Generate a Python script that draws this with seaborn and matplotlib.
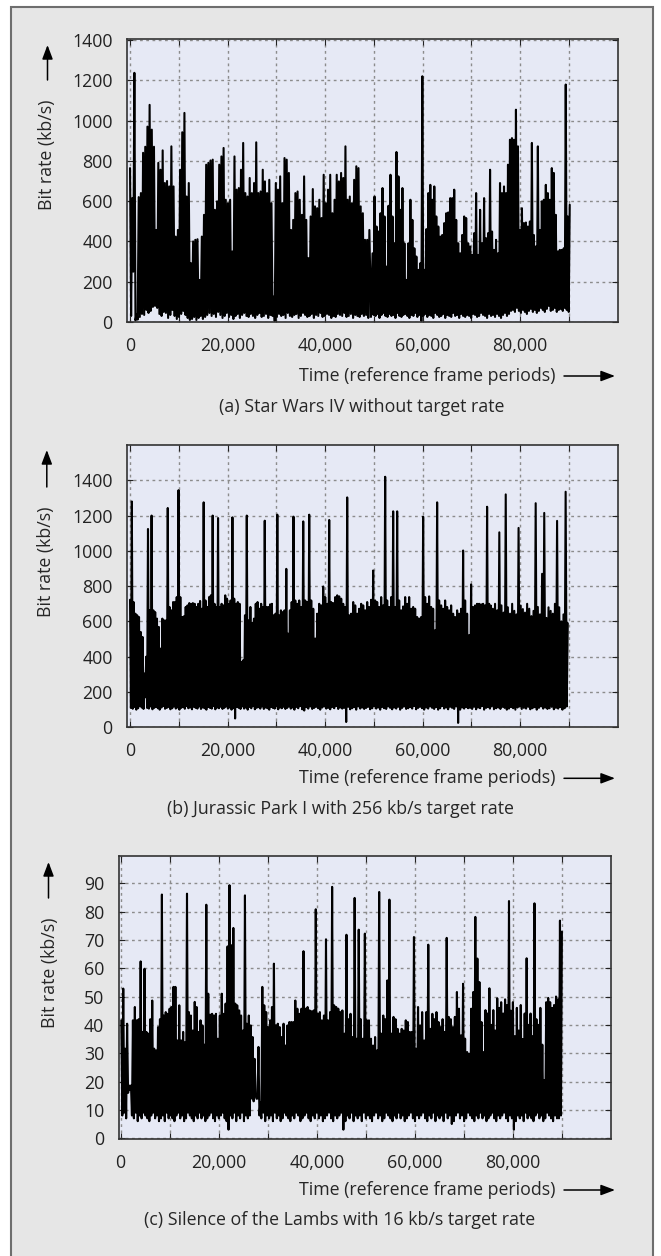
import numpy as np
import pandas as pd
import matplotlib
matplotlib.use("Agg")
import matplotlib.pyplot as plt
from matplotlib.patches import Rectangle, FancyArrowPatch
import seaborn as sns

# ---- data (upper peaks and lower troughs) ----
# (a) Star Wars IV, kb/s
A_HI_1 = [764, 615, 1237, 40, 620, 640, 840, 870, 970, 1078,
          955, 870, 457, 790, 756, 852, 690, 700, 673, 872,
          673, 424, 457, 756, 942, 1038, 623, 690, 292, 400,
          408, 411, 209, 424, 532, 781, 790, 802, 806, 557,
          599, 781, 822, 864, 607, 590, 607, 350, 822, 657,
          665, 756, 889, 640, 623, 715, 640, 690, 892, 640,
          648, 756, 698, 640, 706, 590, 126, 690, 657, 723,
          590, 814, 806, 740, 457, 507, 640, 648, 607, 532,
          723, 507, 317, 524, 660, 574, 565, 607, 516, 731,
          590, 657, 731, 540, 607, 731, 698, 740, 715, 872,
          607, 623, 590, 706, 773, 764, 574, 540, 408, 408, 457]
A_HI_2 = [341, 623, 474, 449, 540, 665, 524, 275, 577, 731,
          524, 391, 844, 723, 557, 665, 391, 209, 391, 607,
          507, 366, 325, 259, 292, 1220, 259, 461, 640, 681,
          607, 673, 524, 474, 424, 432, 491, 540, 544, 615,
          615, 657, 507, 391, 341, 432, 524, 516, 391, 375,
          333, 441, 640, 333, 557, 391, 615, 416, 441, 756,
          449, 358, 408, 341, 690, 640, 673, 640, 781, 905,
          913, 905, 1054, 872, 457, 565, 491, 494, 474, 499,
          889, 432, 375, 872, 457, 599, 607, 681, 640, 607,
          764, 740, 532, 350, 358, 358, 366, 1179, 524, 582]
A_LO = [30, 250, 8, 12, 25, 40, 35, 60, 45, 55, 75, 80, 70, 40, 30, 50, 45, 20, 35, 60,
        30, 15, 25, 40, 55, 35, 20, 10, 15, 25, 10, 20, 30, 15, 25, 35, 45, 30, 40, 25,
        50, 35, 20, 30, 45, 25, 35, 15, 30, 40, 20, 35, 45, 30, 25, 40, 30, 20, 35, 45,
        25, 30, 40, 20, 35, 30, 5, 25, 40, 30, 35, 20, 45, 30, 25, 35, 40, 20, 30, 45,
        35, 25, 30, 40, 20, 35, 30, 45, 25, 30, 40, 35, 20, 30, 25, 40, 35, 30, 45, 25,
        30, 40, 20, 35, 30, 25, 40, 30, 35, 20,
        25, 35, 30, 40, 20, 35, 45, 30, 25, 40, 30, 35, 20, 45, 30, 25, 35, 40, 30, 20,
        35, 30, 45, 25, 35, 5, 30, 40, 25, 35, 30, 20, 45, 35, 25, 30, 40, 20, 35, 30,
        25, 45, 30, 35, 20, 40, 30, 25, 35, 30, 20, 40, 35, 25, 30, 45, 35, 30, 20, 40,
        30, 35, 25, 40, 30, 20, 35, 45, 30, 40, 55, 60, 50, 70, 55, 45, 60, 50, 40, 55,
        65, 50, 60, 45, 55, 70, 60, 50, 65, 80, 55, 60, 70, 50, 60, 65, 55, 70, 60, 50]

# (b) Jurassic Park I, kb/s
B_HI_1 = [723, 1280, 710, 644, 635, 625, 540, 512, 305, 400,
          1124, 663, 1200, 663, 653, 616, 569, 446, 616, 606,
          606, 1243, 682, 663, 710, 710, 738, 1344, 738, 625,
          629, 682, 691, 704, 700, 704, 700, 682, 700, 716,
          672, 1275, 719, 682, 738, 748, 1200, 700, 682, 1186,
          682, 700, 691, 748, 729, 700, 719, 1190, 729, 700,
          710, 700, 371, 380, 635, 1200, 606, 682, 591, 616,
          700, 710, 672, 700, 682, 1171, 682, 682, 697, 700,
          635, 644, 1205, 635, 663, 653, 663, 898, 531, 663,
          710, 1194, 719]
B_HI_2 = [700, 719, 682, 1167, 719, 710, 1205, 719, 672, 503,
          644, 700, 691, 798, 738, 700, 1175, 710, 704, 738,
          748, 742, 729, 700, 682, 1303, 635, 644, 710, 691,
          644, 672, 700, 691, 663, 710, 682, 723, 889, 719,
          710, 682, 738, 691, 1420, 719, 682, 738, 1224, 682,
          1224, 719, 663, 685, 738, 700, 738, 672, 682, 672,
          625, 616, 625, 1194, 738, 700, 742, 682, 672, 550,
          1275, 719, 691, 672, 719, 682, 663, 691, 644, 625,
          663, 644, 672, 1002, 719, 644, 522, 810, 682, 691,
          700, 700, 697, 700, 691, 1250, 700]
B_HI_3 = [690, 672, 700, 663, 1105, 691, 650, 1320, 680, 644,
          700, 660, 640, 1130, 690, 670, 650, 700, 672, 630,
          660, 1270, 682, 640, 870, 1215, 620, 680, 660, 644,
          700, 1170, 680, 600, 640, 1335, 590]
B_LO = [110, 105, 115, 100, 108, 120, 112, 104, 170, 110, 106, 118, 102, 110, 115, 108, 100, 112, 120, 105,
        110, 115, 102, 108, 118, 106, 112, 100, 110, 114, 105, 120, 108, 112, 102, 116, 110, 106, 118, 104,
        112, 108, 100, 115, 110, 106, 120, 102, 112, 108, 116, 104, 110, 118, 106, 112, 100, 108, 50, 115,
        110, 104, 118, 106, 112, 100, 115, 108, 120, 102, 110, 114, 106, 118, 104, 112, 108, 100, 116, 110,
        106, 120, 102, 112, 108, 116, 104, 110, 118, 106, 112, 100, 115, 108, 120, 102, 95, 114, 106, 118,
        104, 110, 116, 108, 100, 112, 118, 106, 110, 102, 115, 108, 120, 104, 112, 106, 110, 30, 116, 102,
        108, 114, 100, 118, 106, 112, 104, 110, 116, 102, 108, 120, 106, 112, 100, 115, 108, 104, 118, 110,
        102, 112, 106, 116, 100, 110, 118, 104, 108, 114, 106, 120, 102, 110, 116, 108, 100, 112, 106, 118,
        110, 104, 114, 100, 108, 120, 106, 112, 102, 116, 110, 104, 118, 25, 100, 112, 106, 114, 108, 110,
        104, 116, 102, 112, 108, 120, 100, 110, 114, 106, 118, 102, 108, 112, 104, 116, 110, 100, 106, 114,
        108, 100, 112, 118, 104, 110, 106, 116, 102, 108, 114, 100, 110, 118, 106, 112, 104, 108, 116, 102,
        110, 106, 114, 100, 108, 118]

# (c) Silence of the Lambs, kb/s
C_HI_1 = [41.6, 52.8, 31.6, 40.4, 18.6, 18.6, 41.6, 46.3, 41.6, 42,
          62.4, 37.5, 59.8, 37.5, 36.9, 42, 48.6, 31.6, 31, 39.2,
          42, 86, 43.3, 44.5, 43.9, 45.7, 46.3, 53.4, 53.4, 34.5,
          46.9, 34.5, 37.5, 33.9, 86.3, 44.5, 43.3, 38, 48.1, 46.3,
          37.5, 41.6, 39.8, 33, 82.4, 51, 43.6, 43.9, 43.3, 43.9,
          35.1, 43.3, 51, 43.9, 47.5, 67.7, 89.3, 68.1, 74.2, 47.5,
          46.9, 45.1, 43.3, 38, 85.7, 40.4, 43.3, 39.8, 35.7, 28,
          13.9, 32.2, 12.7, 53.4, 46.9, 44.5, 39.2, 41.6, 46.3, 61.6,
          39.8, 40.4, 39.2, 35.7, 40.4, 32.7, 39.8, 41, 41]
C_HI_2 = [41, 48.6, 45.7, 43.9, 45.7, 66, 45.7, 46.3, 45.1, 44.8,
          45.1, 80.8, 43.9, 44.5, 41.6, 43.3, 70.2, 41.6, 44.5, 88.7,
          46.9, 46.3, 45.7, 44.5, 45.1, 36.9, 71.8, 42, 43.9, 35.7,
          84.8, 35.1, 73.6, 42, 35.1, 72.2, 41.6, 41.6, 35.1, 32.7,
          35.7, 31, 86.9, 36.9, 43.3, 42, 55.7, 84.2, 36.9, 42.8,
          42, 38.6, 36.9, 38.6, 38, 41.6, 41, 37.5, 37.5, 71,
          31.6, 46.3, 39.8, 44.5, 34.5, 44.5, 68.3, 38.6, 43.9, 42,
          44.5, 41, 39.2, 42, 37.5, 70.7, 42.8, 42, 39.2, 42.8,
          51.6, 45.7, 36.3, 54.5, 35.1, 30.4, 29.8, 45.7, 51.6, 78.1,
          63.4, 55.1, 41, 30.4]
C_HI_3 = [45.2, 44, 52.9, 40, 45.2, 38, 49.4, 46, 48, 44,
          49, 47, 83.7, 45, 48, 36, 46, 38, 47, 35,
          44, 63.5, 40, 44, 36, 82.9, 42, 40, 46, 33,
          20.5, 48, 49.5, 48, 46, 47, 50, 49, 76.8, 72.9]
C_LO = [8, 9, 7, 16, 17, 8, 7, 9, 6, 8, 7, 9, 8, 7, 6, 8, 9, 7, 8, 6,
        7, 8, 6, 9, 7, 8, 7, 6, 8, 9, 7, 8, 6, 7, 9, 8, 7, 6, 8, 7,
        9, 7, 8, 6, 7, 8, 9, 7, 6, 8, 7, 8, 9, 7, 6, 3, 8, 7, 9, 6,
        8, 7, 9, 6, 8, 7, 8, 14, 13, 15, 14, 8, 7, 9, 6, 8, 7, 8, 6, 9,
        7, 8, 6, 7, 9, 8, 7, 6, 8, 7, 9, 8, 6, 7, 8, 9, 7, 6, 8, 7,
        9, 7, 8, 6, 7, 8, 9, 7, 6, 8, 7, 8, 9, 3, 6, 8, 7, 9, 6, 8,
        7, 8, 6, 9, 7, 8, 7, 6, 8, 9, 7, 8, 6, 7, 9, 8, 7, 6, 8, 7,
        9, 7, 8, 6, 7, 8, 9, 7, 6, 8, 7, 8, 9, 7, 6, 8, 7, 9, 6, 8,
        7, 8, 6, 9, 7, 8, 5, 6, 8, 9, 7, 8, 6, 7, 9, 8, 7, 6, 8, 7,
        9, 7, 8, 6, 7, 8, 9, 7, 6, 8, 7, 8, 9, 7, 6, 8, 7, 3, 6, 8,
        7, 8, 6, 9, 7, 8, 7, 6, 8, 9, 7, 8, 6, 7, 9, 8, 7, 6, 8, 7,
        7, 8]

# frame times of the peak samples (evenly spaced within each read-off stretch)
T_A = np.concatenate([np.linspace(0, 49100, len(A_HI_1)), np.linspace(49750, 90200, len(A_HI_2))])
T_B = np.concatenate([np.linspace(0, 33900, len(B_HI_1)), np.linspace(34300, 73660, len(B_HI_2)),
                      np.linspace(74000, 89800, len(B_HI_3))])
T_C = np.concatenate([np.linspace(136, 34800, len(C_HI_1)), np.linspace(35200, 74000, len(C_HI_2)),
                      np.linspace(74400, 89990, len(C_HI_3))])

CAPTIONS = ["(a) Star Wars IV without target rate",
            "(b) Jurassic Park I with 256 kb/s target rate",
            "(c) Silence of the Lambs with 16 kb/s target rate"]


def trace_frame(t, hi, lo):
    # peaks at t, troughs half way between them
    t = np.asarray(t, float)
    x = np.empty(2 * len(t) - 1)
    y = np.empty(2 * len(t) - 1)
    x[0::2] = t
    x[1::2] = (t[:-1] + t[1:]) / 2
    y[0::2] = hi
    y[1::2] = lo
    return pd.DataFrame({"frame": x, "rate": y})


df_a = trace_frame(T_A, A_HI_1 + A_HI_2, A_LO)
df_b = trace_frame(T_B, B_HI_1 + B_HI_2 + B_HI_3, B_LO)
df_c = trace_frame(T_C, C_HI_1 + C_HI_2 + C_HI_3, C_LO)

sns.set_style("ticks")
plt.rcParams["font.family"] = ["Open Sans", "DejaVu Sans"]
FS = 12.8

W, H = 661, 1256
fig = plt.figure(figsize=(W / 100, H / 100), dpi=100)
fig.patch.set_facecolor("white")
fig.add_artist(Rectangle((11 / W, -0.01), 642 / W, (H - 7) / H + 0.01, transform=fig.transFigure,
                         facecolor="#e6e6e6", edgecolor="#6e6e6e", lw=1.5, zorder=-10))


def fx(x):
    return x / W


def fy(y):
    return 1 - y / H


def arrow(p0, p1):
    fig.add_artist(FancyArrowPatch((fx(p0[0]), fy(p0[1])), (fx(p1[0]), fy(p1[1])),
                                   transform=fig.transFigure,
                                   arrowstyle="-|>,head_length=0.85,head_width=0.32",
                                   mutation_scale=10, color="black", lw=1.1,
                                   shrinkA=0, shrinkB=0))


# box = left, top, right, bottom in pixels
panels = [
    dict(df=df_a, box=(127.3, 39, 617.5, 322), xlim=(-560, 100000), ylim=(0, 1405),
         yticks=np.arange(0, 1401, 200), ylab=(47.3, 155), yarrow=(47.5, 80, 45),
         xlab_y=376, cap=(361.5, 406.7)),
    dict(df=df_b, box=(127.3, 445, 617.5, 727.3), xlim=(-560, 100000), ylim=(0, 1600),
         yticks=np.arange(0, 1401, 200), ylab=(46.4, 561.7), yarrow=(46.8, 487, 450),
         xlab_y=778.3, cap=(340.5, 809.3)),
    dict(df=df_c, box=(118.7, 856, 611, 1139.3), xlim=(-400, 100000), ylim=(-0.4, 99.6),
         yticks=np.arange(0, 91, 10), ylab=(50.5, 972.3), yarrow=(48.5, 898, 862),
         xlab_y=1190, cap=(339.7, 1220)),
]

xt = np.arange(0, 90001, 10000)
xtl = ["0", "", "20,000", "", "40,000", "", "60,000", "", "80,000", ""]

for p, cap in zip(panels, CAPTIONS):
    l, t, r, b = p["box"]
    ax = fig.add_axes([fx(l), fy(b), (r - l) / W, (b - t) / H])
    ax.set_facecolor("#e6e9f5")
    sns.lineplot(data=p["df"], x="frame", y="rate", ax=ax, color="black", linewidth=1.5,
                 estimator=None, sort=False)
    ax.set_xlim(*p["xlim"])
    ax.set_ylim(*p["ylim"])
    ax.set_xticks(xt, xtl)
    ax.set_yticks(p["yticks"], [str(v) for v in p["yticks"]])
    ax.set_xlabel("")
    ax.set_ylabel("")
    ax.set_axisbelow(True)
    ax.grid(True, color="#8c8c8c", linestyle=(0, (2, 2.5)), linewidth=1.0)
    ax.tick_params(direction="in", length=4, width=0.8, top=True, right=True,
                   labelsize=FS, colors="#222222")
    ax.tick_params(axis="x", pad=10.5)
    ax.tick_params(axis="y", pad=10.5)
    for s in ax.spines.values():
        s.set_color("#333333")
        s.set_linewidth(1.2)

    fig.text(fx(p["ylab"][0]), fy(p["ylab"][1]), "Bit rate (kb/s)", rotation=90,
             ha="center", va="center", fontsize=FS)
    ax_x, y0, y1 = p["yarrow"]
    arrow((ax_x, y0), (ax_x, y1))

    fig.text(fx(555.5), fy(p["xlab_y"]), "Time (reference frame periods)",
             ha="right", va="center", fontsize=FS)
    arrow((564, p["xlab_y"]), (615, p["xlab_y"]))

    fig.text(fx(p["cap"][0]), fy(p["cap"][1]), cap, ha="center", va="center", fontsize=FS)

fig.savefig("out.png", dpi=100)
